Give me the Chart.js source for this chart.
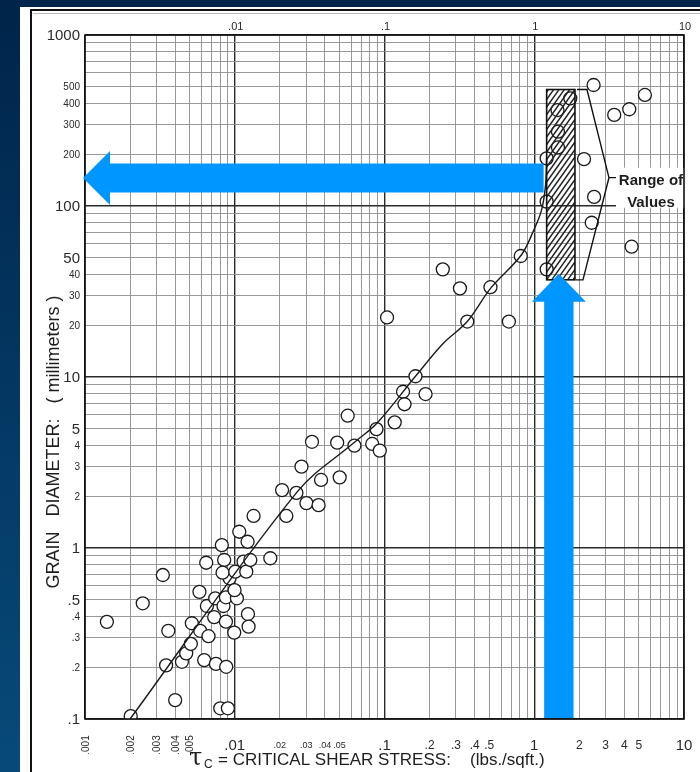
<!DOCTYPE html>
<html>
<head>
<meta charset="utf-8">
<script src="https://cdn.jsdelivr.net/npm/chart.js@4.4.0/dist/chart.umd.min.js"></script>
<style>
  html, body { margin: 0; padding: 0; background: #022a52; }
  canvas { display: block; }
</style>
</head>
<body>
<canvas id="myChart" width="700" height="772"></canvas>
<script>
// observed samples: critical shear stress (lbs/sqft) vs grain diameter (mm)
const stressX = [
  0.0014, 0.00243, 0.00331, 0.00202, 0.0036, 0.0040, 0.00348, 0.00444, 0.00474, 0.00509,
  0.00517, 0.00588, 0.00581, 0.00645, 0.00625, 0.00668, 0.00652, 0.00741, 0.00729, 0.00749,
  0.0080, 0.0082, 0.00841, 0.00873, 0.0085, 0.00873, 0.00877, 0.0090, 0.00923, 0.00829,
  0.00992, 0.01008, 0.01034, 0.00997, 0.01072, 0.01145, 0.01194, 0.01225, 0.01237, 0.01218,
  0.0127, 0.01336, 0.01728, 0.0207, 0.0221, 0.0258, 0.0301, 0.813, 0.245, 0.319,
  0.51, 0.104, 0.357, 0.677, 0.161, 0.133, 0.188, 0.136, 0.0568, 0.117,
  0.0884, 0.0328, 0.0483, 0.063, 0.0828, 0.093, 0.0279, 0.0377, 0.0502, 0.0363,
  2.49, 5.48, 1.74, 4.31, 3.42, 1.43, 1.44, 1.44, 1.21, 2.15,
  2.51, 1.21, 2.42, 4.47, 1.21
];
const diameterY = [
  0.37, 0.475, 0.695, 0.104, 0.328, 0.129, 0.206, 0.216, 0.242, 0.275,
  0.363, 0.328, 0.554, 0.82, 0.221, 0.305, 0.458, 0.508, 0.394, 0.21,
  0.1155, 1.04, 0.458, 0.371, 0.851, 0.515, 0.202, 0.1155, 0.665, 0.717,
  0.32, 0.727, 0.508, 0.567, 1.245, 0.832, 0.727, 0.411, 0.347, 1.088,
  0.851, 1.54, 0.871, 2.18, 1.54, 2.1, 1.83, 51, 42.6, 33,
  33.5, 22.3, 21.1, 21.1, 10.1, 8.2, 7.95, 6.93, 5.94, 5.43,
  4.96, 4.18, 4.13, 3.97, 4.06, 3.71, 2.99, 2.5, 2.59, 1.78,
  510, 446, 426, 368, 341, 364, 272, 220, 190, 188,
  113, 106, 79.8, 57.8, 42.6
];

// fitted curve
const curveX = [0.002, 0.0261, 0.0621, 0.0893, 0.161, 0.248, 0.357, 0.512, 0.82, 0.993, 1.12, 1.19, 1.21];
const curveY = [0.1, 2.13, 4.11, 5.38, 10.1, 15.8, 21.1, 33.1, 51.7, 72.4, 95, 133, 190];

// range of values box (x from/to, y from/to)
const rangeX = [1.21, 1.87];
const rangeY = [37, 480];

// tick labels
const yTickValues = [1000, 500, 400, 300, 200, 100, 50, 40, 30, 20, 10, 5, 4, 3, 2, 1, 0.5, 0.4, 0.3, 0.2, 0.1];
const yTickLabels = ['1000', '500', '400', '300', '200', '100', '50', '40', '30', '20', '10', '5', '4', '3', '2', '1', '.5', '.4', '.3', '.2', '.1'];
const xTickValues = [0.001, 0.002, 0.003, 0.004, 0.005, 0.01, 0.02, 0.03, 0.04, 0.05, 0.1, 0.2, 0.3, 0.4, 0.5, 1, 2, 3, 4, 5, 10];
const xTickLabels = ['.001', '.002', '.003', '.004', '.005', '.01', '.02', '.03', '.04', '.05', '.1', '.2', '.3', '.4', '.5', '1', '2', '3', '4', '5', '10'];
const xTopValues = [0.01, 0.1, 1, 10];
const xTopLabels = ['.01', '.1', '1', '10'];

const NARROW = '"Liberation Sans Narrow", "Arial Narrow", "Liberation Sans", sans-serif';
const SANS = '"Liberation Sans", Arial, sans-serif';

function isDecade(v) {
  const l = Math.log10(v);
  return Math.abs(l - Math.round(l)) < 1e-6;
}

function logTicks(min, max) {
  const t = [];
  for (let e = Math.round(Math.log10(min)); e < Math.round(Math.log10(max)); e++) {
    for (let m = 1; m < 10; m++) t.push({ value: parseFloat((m * Math.pow(10, e)).toPrecision(6)) });
  }
  t.push({ value: max });
  return t;
}

const gridColor = ctx => (ctx.tick && isDecade(ctx.tick.value)) ? '#2a2a2a' : '#8c8c8c';
const gridWidth = ctx => (ctx.tick && isDecade(ctx.tick.value)) ? 1.4 : 0.9;

const pagePlugin = {
  id: 'page',
  beforeDraw(chart) {
    const c = chart.ctx;
    const g = c.createLinearGradient(0, 0, 0, 772);
    g.addColorStop(0, '#00244a');
    g.addColorStop(1, '#074a7a');
    c.save();
    c.fillStyle = g;
    c.fillRect(0, 0, 700, 772);
    c.fillStyle = '#ffffff';
    c.fillRect(20, 7, 680, 765);
    c.strokeStyle = '#111';
    c.lineWidth = 2;
    c.beginPath();
    c.moveTo(31, 772);
    c.lineTo(31, 10);
    c.lineTo(700, 10);
    c.stroke();
    c.strokeStyle = '#bbb';
    c.lineWidth = 1;
    c.beginPath();
    c.moveTo(33, 13.5);
    c.lineTo(700, 13.5);
    c.stroke();
    c.restore();
  },
  afterDatasetsDraw(chart) {
    const c = chart.ctx;
    const X = chart.scales.x, Y = chart.scales.y;
    const x0 = X.getPixelForValue(rangeX[0]), x1 = X.getPixelForValue(rangeX[1]);
    const y0 = Y.getPixelForValue(rangeY[1]), y1 = Y.getPixelForValue(rangeY[0]);
    c.save();
    // hatched box
    c.beginPath();
    c.rect(x0, y0, x1 - x0, y1 - y0);
    c.save();
    c.clip();
    c.strokeStyle = '#222';
    c.lineWidth = 1.4;
    for (let k = y0 - 60; k < y1 + 60; k += 7.5) {
      c.beginPath();
      c.moveTo(x0, k + 40);
      c.lineTo(x1, k);
      c.stroke();
    }
    c.restore();
    c.strokeStyle = '#111';
    c.lineWidth = 1.6;
    c.strokeRect(x0, y0, x1 - x0, y1 - y0);
    // bracket
    const tipY = (y0 + y1) / 2 - 7;
    c.lineWidth = 1.4;
    c.beginPath();
    c.moveTo(x1 + 2, y0);
    c.lineTo(x1 + 12, y0);
    c.lineTo(x1 + 34, tipY);
    c.lineTo(x1 + 8, y1);
    c.lineTo(x1 + 1, y1);
    c.moveTo(x1 + 34, tipY);
    c.lineTo(x1 + 42, tipY);
    c.stroke();
    // label
    c.fillStyle = '#fff';
    c.fillRect(x1 + 41, tipY - 10, 70, 40);
    c.fillStyle = '#1e1e1e';
    c.font = 'bold 15px ' + SANS;
    c.textAlign = 'center';
    c.textBaseline = 'alphabetic';
    c.fillText('Range of', x1 + 76, tipY + 7);
    c.fillText('Values', x1 + 76, tipY + 29);
    c.restore();
  },
  afterDraw(chart) {
    const c = chart.ctx;
    const X = chart.scales.x, Y = chart.scales.y;
    c.save();
    // plot frame
    c.strokeStyle = '#111';
    c.lineWidth = 1.6;
    c.strokeRect(X.left, Y.top, X.right - X.left, Y.bottom - Y.top);

    // arrows
    c.fillStyle = '#0096ff';
    const arrowY = Y.getPixelForValue(146);
    const tipX = X.left - 2;
    const tailX = X.getPixelForValue(rangeX[0]) - 3;
    c.beginPath();
    c.moveTo(tipX, arrowY);
    c.lineTo(tipX + 27, arrowY - 27);
    c.lineTo(tipX + 27, arrowY - 14.5);
    c.lineTo(tailX, arrowY - 14.5);
    c.lineTo(tailX, arrowY + 14.5);
    c.lineTo(tipX + 27, arrowY + 14.5);
    c.lineTo(tipX + 27, arrowY + 27);
    c.closePath();
    c.fill();

    const arrowX = X.getPixelForValue(1.46);
    const tipY = Y.getPixelForValue(rangeY[0]) - 6;
    const baseY = Y.bottom - 1;
    c.beginPath();
    c.moveTo(arrowX, tipY);
    c.lineTo(arrowX + 27, tipY + 28);
    c.lineTo(arrowX + 14.7, tipY + 28);
    c.lineTo(arrowX + 14.7, baseY);
    c.lineTo(arrowX - 14.7, baseY);
    c.lineTo(arrowX - 14.7, tipY + 28);
    c.lineTo(arrowX - 27, tipY + 28);
    c.closePath();
    c.fill();

    // y tick labels
    c.fillStyle = '#2a2a2a';
    c.textAlign = 'right';
    c.textBaseline = 'middle';
    yTickValues.forEach((v, i) => {
      const big = isDecade(v) || (isDecade(v * 2) && v < 100);
      c.font = (big ? '15px ' : '10px ') + NARROW;
      c.fillText(yTickLabels[i], 80, Y.getPixelForValue(v) + 1);
    });

    // top x labels
    c.textAlign = 'center';
    c.font = '11px ' + NARROW;
    xTopValues.forEach((v, i) => {
      c.fillText(xTopLabels[i], X.getPixelForValue(v) + 1, 27);
    });

    // bottom x labels
    xTickValues.forEach((v, i) => {
      const p = X.getPixelForValue(v);
      if (v < 0.009) {
        c.save();
        c.translate(p + 1, 745);
        c.rotate(-Math.PI / 2);
        c.font = '10px ' + NARROW;
        c.fillText(xTickLabels[i], 0, 0);
        c.restore();
      } else {
        let size = 12;
        if (isDecade(v)) size = 15;
        else if (v < 0.09) size = 9;
        c.font = size + 'px ' + NARROW;
        c.fillText(xTickLabels[i], p, 746);
      }
    });

    // axis titles
    c.fillStyle = '#1e1e1e';
    c.textBaseline = 'alphabetic';
    c.textAlign = 'left';
    c.font = '24px "DejaVu Serif", serif';
    c.fillText('\u03c4', 189, 765);
    c.font = '12px ' + SANS;
    c.fillText('C', 204, 768);
    c.font = '17px ' + SANS;
    c.fillText('= CRITICAL SHEAR STRESS:', 218, 765);
    c.fillText('(lbs./sqft.)', 470, 765);

    c.save();
    c.translate(59, 442);
    c.rotate(-Math.PI / 2);
    c.textAlign = 'center';
    c.font = '18px ' + SANS;
    c.fillText('GRAIN   DIAMETER:   ( millimeters )', 0, 0);
    c.restore();
    c.restore();
  }
};

const ctx = document.getElementById('myChart').getContext('2d');
const myChart = new Chart(ctx, {
  type: 'scatter',
  data: {
    datasets: [
      {
        label: 'curve',
        type: 'line',
        data: curveX.map((x, i) => ({ x, y: curveY[i] })),
        borderColor: '#1a1a1a',
        borderWidth: 1.4,
        pointRadius: 0,
        tension: 0.35,
        fill: false
      },
      {
        label: 'samples',
        data: stressX.map((x, i) => ({ x, y: diameterY[i] })),
        pointRadius: 6.5,
        pointBorderWidth: 1.3,
        borderColor: '#1a1a1a',
        backgroundColor: '#ffffff',
        pointHoverRadius: 6.5
      }
    ]
  },
  options: {
    responsive: false,
    animation: false,
    events: [],
    layout: { padding: { left: 85, right: 16, top: 35, bottom: 53 } },
    scales: {
      x: {
        type: 'logarithmic',
        min: 0.001,
        max: 10,
        afterBuildTicks: s => { s.ticks = logTicks(0.001, 10); },
        ticks: { display: false },
        border: { display: false },
        grid: { color: gridColor, lineWidth: gridWidth, drawTicks: false }
      },
      y: {
        type: 'logarithmic',
        min: 0.1,
        max: 1000,
        afterBuildTicks: s => { s.ticks = logTicks(0.1, 1000); },
        ticks: { display: false },
        border: { display: false },
        grid: { color: gridColor, lineWidth: gridWidth, drawTicks: false }
      }
    },
    plugins: {
      legend: { display: false },
      tooltip: { enabled: false }
    }
  },
  plugins: [pagePlugin]
});
</script>
</body>
</html>
